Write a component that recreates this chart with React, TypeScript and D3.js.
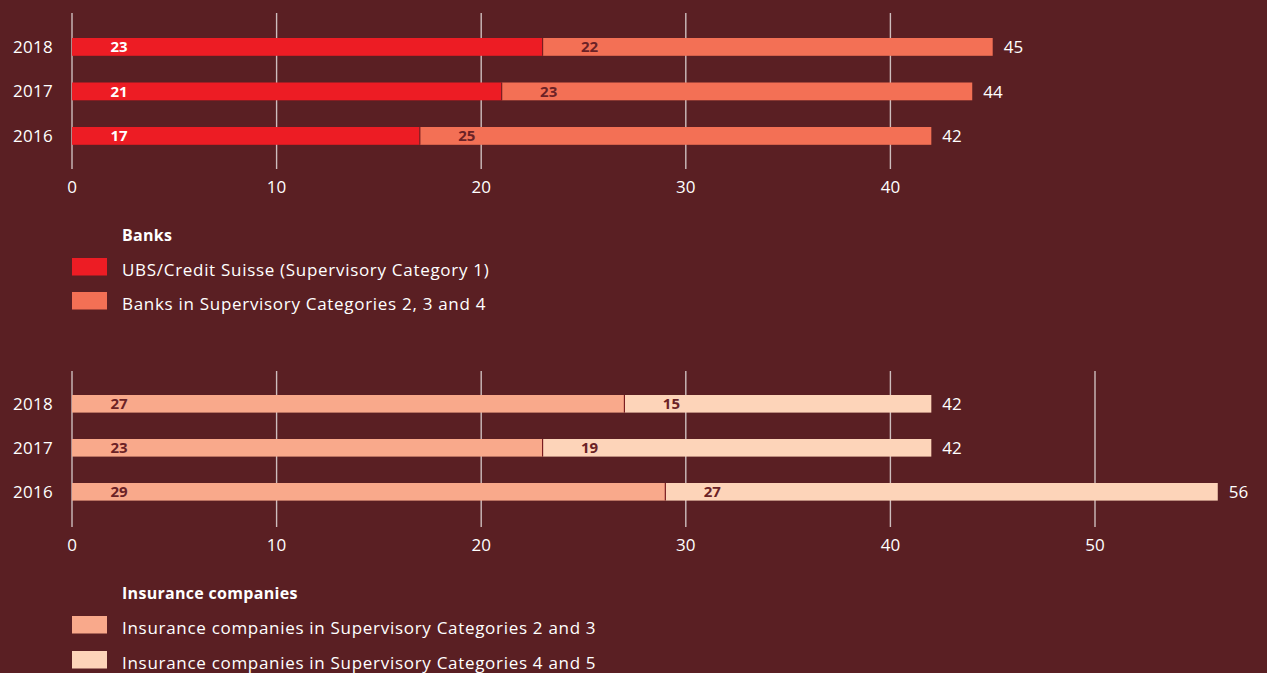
import React from "react";
import * as d3 from "d3";

const years = ["2018", "2017", "2016"];
const bankCat1 = [23, 21, 17];
const bankCat234 = [22, 23, 25];
const insCat23 = [27, 23, 29];
const insCat45 = [15, 19, 27];
const topTicks = [0, 10, 20, 30, 40];
const bottomTicks = [0, 10, 20, 30, 40, 50];
const banksTitle = "Banks";
const banksLegend = ["UBS/Credit Suisse (Supervisory Category 1)", "Banks in Supervisory Categories 2, 3 and 4"];
const insTitle = "Insurance companies";
const insLegend = ["Insurance companies in Supervisory Categories 2 and 3", "Insurance companies in Supervisory Categories 4 and 5"];

const BG = "#5a1f23";
const FONT = "'Open Sans', 'Noto Sans', sans-serif";
const GRID = "#cdbdbd";

const x = d3.scaleLinear().domain([0, 50]).range([72, 1095]);

type PanelProps = {
  top: number;
  step: number;
  gridTop: number;
  gridBottom: number;
  ticks: number[];
  a: number[];
  b: number[];
  colA: string;
  colB: string;
  labA: string;
  labB: string;
  title: string;
  legend: string[];
  titleY: number;
  swY: number[];
};

function Panel(p: PanelProps) {
  const y = d3
    .scaleBand<string>()
    .domain(years)
    .range([p.top - p.step * 0.3, p.top - p.step * 0.3 + p.step * 3])
    .paddingInner(0.6)
    .paddingOuter(0.3);
  const bw = y.bandwidth();
  return (
    <g>
      {p.ticks.map((t) => (
        <g key={t}>
          <line x1={x(t)} x2={x(t)} y1={p.gridTop} y2={p.gridBottom} stroke={GRID} strokeWidth={1.4} />
          <text x={x(t)} y={p.gridBottom + 24} textAnchor="middle" fill="#ffffff" fontSize={17} fontFamily={FONT}>
            {t}
          </text>
        </g>
      ))}
      {years.map((yr, i) => {
        const y0 = y(yr) as number;
        const cy = y0 + bw / 2;
        const total = p.a[i] + p.b[i];
        return (
          <g key={yr}>
            <text x={53} y={cy} dy="0.35em" textAnchor="end" fill="#ffffff" fontSize={17} fontFamily={FONT} letterSpacing={0.3}>
              {yr}
            </text>
            <rect x={x(0)} y={y0} width={x(p.a[i]) - x(0)} height={bw} fill={p.colA} />
            <rect x={x(p.a[i])} y={y0} width={x(total) - x(p.a[i])} height={bw} fill={p.colB} />
            <line x1={x(p.a[i])} x2={x(p.a[i])} y1={y0} y2={y0 + bw} stroke="#7a1d20" strokeWidth={1.2} />
            <text x={x(0) + 47} y={cy} dy="0.36em" textAnchor="middle" fill={p.labA} fontSize={15} fontWeight="bold" fontFamily={FONT}>
              {p.a[i]}
            </text>
            <text x={x(p.a[i]) + 47} y={cy} dy="0.36em" textAnchor="middle" fill={p.labB} fontSize={15} fontWeight="bold" fontFamily={FONT}>
              {p.b[i]}
            </text>
            <text x={x(total) + 11} y={cy} dy="0.36em" textAnchor="start" fill="#ffffff" fontSize={17} fontFamily={FONT}>
              {total}
            </text>
          </g>
        );
      })}
      <text x={122} y={p.titleY} fill="#ffffff" fontSize={16} fontWeight="bold" fontFamily={FONT} letterSpacing={0.3}>
        {p.title}
      </text>
      {p.legend.map((l, i) => (
        <g key={l}>
          <rect x={72} y={p.swY[i]} width={35} height={17.5} fill={i === 0 ? p.colA : p.colB} />
          <text x={122} y={p.swY[i] + 17.5} fill="#ffffff" fontSize={17} fontFamily={FONT} letterSpacing={0.7}>
            {l}
          </text>
        </g>
      ))}
    </g>
  );
}

export default function App() {
  return (
    <svg width={1267} height={673} style={{ position: "absolute", left: 0, top: 0, display: "block" }}>
      <rect x={0} y={0} width={1267} height={673} fill={BG} />
      <Panel
        top={38}
        step={44.5}
        gridTop={13}
        gridBottom={169}
        ticks={topTicks}
        a={bankCat1}
        b={bankCat234}
        colA="#ed1c24"
        colB="#f37055"
        labA="#ffffff"
        labB="#6b2226"
        title={banksTitle}
        legend={banksLegend}
        titleY={241}
        swY={[258, 292]}
      />
      <Panel
        top={395}
        step={44}
        gridTop={371}
        gridBottom={527}
        ticks={bottomTicks}
        a={insCat23}
        b={insCat45}
        colA="#f9a98b"
        colB="#fdd4b9"
        labA="#6b2226"
        labB="#6b2226"
        title={insTitle}
        legend={insLegend}
        titleY={599}
        swY={[616, 651]}
      />
    </svg>
  );
}
